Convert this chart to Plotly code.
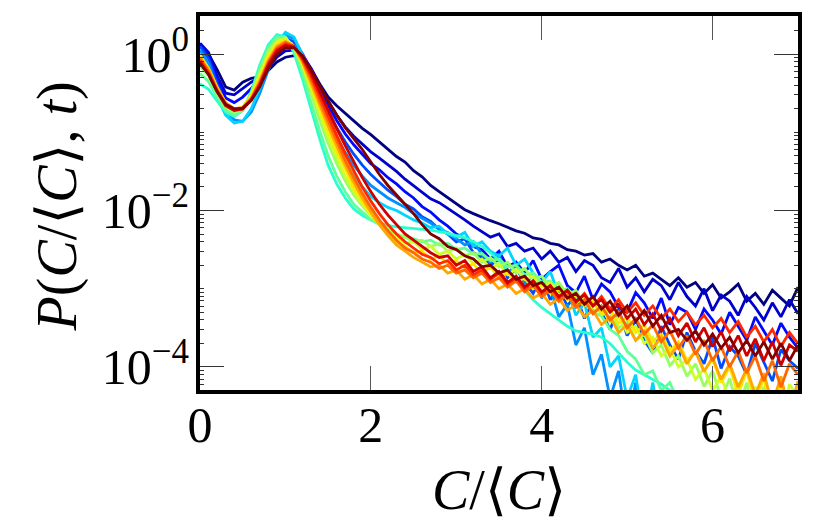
import plotly.graph_objects as go

# C/<C> grid shared by every curve
x_vals = [round(0.1 * k, 1) for k in range(71)]

# log10 P(C/<C>, t), one list per time (early -> late)
# None = empty bin (nothing drawn)
log10_p_t00 = [0.10, 0.00, -0.20, -0.42, -0.46, -0.36, -0.31, -0.29, -0.21, -0.10,
               -0.04, -0.02, -0.06, -0.19, -0.38, -0.55, -0.66, -0.76, -0.86, -0.95,
               -1.03, -1.12, -1.21, -1.31, -1.38, -1.49, -1.57, -1.68, -1.76, -1.84,
               -1.92, -1.99, -2.04, -2.09, -2.13, -2.17, -2.22, -2.26, -2.29, -2.35,
               -2.37, -2.42, -2.44, -2.50, -2.52, -2.57, -2.55, -2.66, -2.62, -2.70,
               -2.76, -2.70, -2.84, -2.80, -2.88, -2.96, -2.86, -2.98, -2.92, -3.06,
               -2.95, -3.12, -3.04, -2.94, -3.16, -3.06, -3.20, -3.02, -3.12, -3.22,
               -2.98]
log10_p_t01 = [0.14, 0.02, -0.28, -0.50, -0.52, -0.44, -0.36, -0.30, -0.18, -0.04,
               0.04, 0.05, -0.02, -0.18, -0.40, -0.60, -0.78, -0.93, -1.05, -1.15,
               -1.25, -1.33, -1.41, -1.50, -1.60, -1.68, -1.77, -1.85, -1.90, -1.97,
               -2.05, -2.12, -2.20, -2.27, -2.34, -2.30, -2.46, -2.42, -2.52, -2.48,
               -2.62, -2.52, -2.66, -2.60, -2.78, -2.64, -2.70, -2.86, -2.92, -2.74,
               -2.98, -2.86, -3.04, -2.88, -2.96, -3.14, -2.92, -3.10, -3.22, -3.00,
               -3.28, -3.08, -3.16, -3.34, -3.10, -3.24, -3.40, -3.18, -3.36, -3.14,
               -3.32]
log10_p_t02 = [0.12, -0.02, -0.32, -0.56, -0.62, -0.55, -0.44, -0.30, -0.12, 0.06,
               0.14, 0.12, 0.00, -0.20, -0.44, -0.66, -0.85, -1.02, -1.16, -1.28,
               -1.40, -1.48, -1.58, -1.66, -1.76, -1.84, -1.95, -2.02, -2.12, -2.20,
               -2.30, -2.36, -2.46, -2.50, -2.62, -2.52, -2.72, -2.66, -2.80, -2.64,
               -2.88, -2.78, -2.70, -2.96, -3.05, -2.84, -3.14, -2.94, -3.04, -3.24,
               -3.30, -3.05, -3.18, -3.38, -3.12, -3.46, -3.24, -3.30, -3.52, -3.26,
               -3.40, -3.58, -3.30, -3.48, -3.66, -3.36, -3.54, -3.72, -3.44, -3.62,
               -3.76]
log10_p_t03 = [0.10, -0.06, -0.38, -0.64, -0.74, -0.70, -0.56, -0.36, -0.12, 0.10,
               0.20, 0.16, 0.00, -0.24, -0.50, -0.74, -0.94, -1.12, -1.28, -1.42,
               -1.54, -1.64, -1.74, -1.82, -1.92, -1.98, -2.08, -2.14, -2.24, -2.30,
               -2.40, -2.36, -2.54, -2.60, -2.70, -2.62, -2.86, -2.74, -2.92, -3.06,
               -2.84, -3.14, -3.00, -3.22, -3.08, -3.38, -3.16, -3.30, -3.52, -3.26,
               -3.60, -3.40, -3.66, -3.82, -3.48, -3.72, -3.90, -3.56, -3.80, -3.96,
               -3.62, -4.02, -3.74, -3.86, -4.10, -3.70, -3.94, -4.18, -3.78, -3.92,
               -4.02]
log10_p_t04 = [0.05, -0.12, -0.45, -0.72, -0.84, -0.86, -0.74, -0.50, -0.20, 0.08,
               0.24, 0.20, 0.00, -0.28, -0.58, -0.84, -1.06, -1.26, -1.42, -1.56,
               -1.68, -1.76, -1.84, -1.90, -1.96, -2.04, -2.10, -2.16, -2.24, -2.28,
               -2.36, -2.44, -2.40, -2.56, -2.66, -2.58, -2.80, -2.70, -2.94, -2.82,
               -3.12, -2.98, -3.36, -3.20, -3.72, -3.50, -4.10, -3.84, -4.40, -4.05,
               -4.80, -4.20, -4.80, -4.30, -4.80, -4.80, None, None, None, None,
               None, None, None, None, None, None, None, None, None, None,
               None]
log10_p_t05 = [-0.10, -0.25, -0.55, -0.78, -0.88, -0.86, -0.70, -0.44, -0.14, 0.14,
               0.28, 0.22, -0.02, -0.34, -0.66, -0.94, -1.18, -1.38, -1.56, -1.70,
               -1.82, -1.90, -1.96, -2.00, -2.06, -2.12, -2.16, -2.22, -2.20, -2.30,
               -2.34, -2.28, -2.46, -2.40, -2.52, -2.58, -2.48, -2.70, -2.62, -2.80,
               -2.92, -2.78, -3.08, -3.00, -3.34, -3.18, -3.62, -3.50, -4.00, -3.86,
               -4.40, -4.10, -4.80, -4.20, -4.80, -4.35, -4.80, None, None, None,
               None, None, None, None, None, None, None, None, None, None,
               None]
log10_p_t06 = [-0.38, -0.45, -0.60, -0.74, -0.80, -0.72, -0.48, -0.14, 0.12, 0.25,
               0.22, 0.02, -0.32, -0.70, -1.08, -1.42, -1.66, -1.84, -1.98, -2.06,
               -2.12, -2.16, -2.19, -2.21, -2.22, -2.23, -2.24, -2.25, -2.27, -2.29,
               -2.32, -2.35, -2.40, -2.46, -2.54, -2.64, -2.76, -2.90, -3.02, -3.14,
               -3.24, -3.32, -3.40, -3.48, -3.54, -3.56, -3.58, -3.62, -3.70, -3.82,
               -3.94, -4.04, -4.10, -4.16, -4.22, -4.30, -4.38, -4.50, None, None,
               None, None, None, None, None, None, None, None, None, None,
               None]
log10_p_t07 = [-0.25, -0.35, -0.55, -0.72, -0.78, -0.72, -0.50, -0.18, 0.08, 0.22,
               0.22, 0.06, -0.26, -0.62, -0.98, -1.30, -1.56, -1.76, -1.92, -2.02,
               -2.12, -2.18, -2.24, -2.30, -2.34, -2.36, -2.40, -2.38, -2.44, -2.42,
               -2.50, -2.48, -2.56, -2.55, -2.64, -2.62, -2.72, -2.70, -2.82, -2.80,
               -2.92, -2.90, -3.02, -3.00, -3.12, -3.15, -3.30, -3.35, -3.52, -3.60,
               -3.80, -3.90, -4.10, -4.05, -4.30, -4.20, -4.45, -4.30, -4.60, -4.35,
               -4.80, None, None, None, None, None, None, None, None, None,
               None]
log10_p_t08 = [-0.15, -0.28, -0.50, -0.68, -0.75, -0.70, -0.52, -0.24, 0.04, 0.18,
               0.20, 0.08, -0.18, -0.50, -0.84, -1.14, -1.40, -1.62, -1.80, -1.94,
               -2.06, -2.16, -2.24, -2.30, -2.34, -2.40, -2.38, -2.46, -2.42, -2.52,
               -2.48, -2.58, -2.54, -2.66, -2.60, -2.72, -2.66, -2.80, -2.74, -2.88,
               -2.84, -2.98, -2.92, -3.08, -3.02, -3.20, -3.14, -3.34, -3.28, -3.50,
               -3.42, -3.66, -3.58, -3.82, -3.72, -3.98, -3.86, -4.12, -3.96, -4.25,
               -4.05, -4.40, -4.15, -4.55, -4.20, -4.80, -4.25, -4.80, -4.30, -4.80,
               -4.20]
log10_p_t09 = [-0.08, -0.22, -0.46, -0.64, -0.72, -0.68, -0.52, -0.26, 0.00, 0.16,
               0.20, 0.10, -0.14, -0.44, -0.76, -1.06, -1.32, -1.56, -1.76, -1.92,
               -2.06, -2.18, -2.28, -2.34, -2.42, -2.40, -2.50, -2.46, -2.56, -2.52,
               -2.62, -2.56, -2.68, -2.62, -2.74, -2.68, -2.82, -2.75, -2.88, -2.84,
               -2.98, -2.92, -3.08, -3.02, -3.18, -3.12, -3.28, -3.24, -3.42, -3.36,
               -3.56, -3.48, -3.70, -3.62, -3.86, -3.76, -4.00, -3.90, -4.16, -4.02,
               -4.30, -4.12, -4.45, -4.20, -4.80, -4.25, -4.80, -4.30, -4.80, -4.22,
               -4.40]
log10_p_t10 = [-0.02, -0.18, -0.42, -0.62, -0.70, -0.68, -0.54, -0.30, -0.04, 0.13,
               0.18, 0.10, -0.12, -0.40, -0.70, -0.98, -1.24, -1.48, -1.70, -1.88,
               -2.04, -2.18, -2.30, -2.40, -2.46, -2.54, -2.52, -2.62, -2.58, -2.68,
               -2.64, -2.74, -2.68, -2.80, -2.72, -2.86, -2.80, -2.92, -2.86, -3.00,
               -2.94, -3.06, -3.00, -3.14, -3.08, -3.22, -3.16, -3.32, -3.26, -3.44,
               -3.36, -3.56, -3.46, -3.68, -3.58, -3.80, -3.68, -3.92, -3.80, -4.05,
               -3.90, -4.20, -4.00, -4.35, -4.05, -4.50, -4.12, -4.80, -4.20, -4.80,
               -4.25]
log10_p_t11 = [-0.04, -0.20, -0.44, -0.62, -0.70, -0.68, -0.56, -0.34, -0.08, 0.10,
               0.16, 0.10, -0.10, -0.36, -0.64, -0.92, -1.18, -1.42, -1.64, -1.84,
               -2.02, -2.18, -2.32, -2.44, -2.52, -2.60, -2.66, -2.72, -2.70, -2.80,
               -2.76, -2.88, -2.82, -2.94, -2.88, -3.00, -2.94, -3.06, -3.00, -3.12,
               -3.06, -3.20, -3.12, -3.28, -3.20, -3.36, -3.28, -3.46, -3.36, -3.56,
               -3.46, -3.66, -3.54, -3.76, -3.62, -3.86, -3.72, -3.96, -3.80, -4.06,
               -3.88, -4.16, -3.96, -4.26, -4.02, -4.36, -4.08, -4.48, -4.12, -4.60,
               -4.18]
log10_p_t12 = [-0.06, -0.22, -0.46, -0.64, -0.71, -0.69, -0.57, -0.36, -0.10, 0.08,
               0.15, 0.10, -0.08, -0.32, -0.60, -0.86, -1.12, -1.36, -1.58, -1.78,
               -1.96, -2.12, -2.26, -2.38, -2.48, -2.54, -2.62, -2.66, -2.74, -2.70,
               -2.80, -2.76, -2.86, -2.80, -2.92, -2.86, -2.98, -2.90, -3.04, -2.96,
               -3.10, -3.02, -3.16, -3.08, -3.24, -3.14, -3.32, -3.22, -3.40, -3.30,
               -3.50, -3.38, -3.58, -3.46, -3.68, -3.54, -3.76, -3.60, -3.84, -3.66,
               -3.92, -3.74, -4.00, -3.80, -4.08, -3.86, -4.18, -3.92, -4.26, -3.96,
               -4.10]
log10_p_t13 = [-0.08, -0.24, -0.47, -0.65, -0.72, -0.70, -0.58, -0.38, -0.12, 0.06,
               0.13, 0.10, -0.06, -0.28, -0.54, -0.80, -1.04, -1.28, -1.50, -1.70,
               -1.88, -2.04, -2.18, -2.30, -2.40, -2.48, -2.56, -2.60, -2.68, -2.64,
               -2.76, -2.70, -2.82, -2.76, -2.88, -2.80, -2.94, -2.86, -3.00, -2.90,
               -3.06, -2.96, -3.12, -3.02, -3.18, -3.06, -3.22, -3.10, -3.26, -3.14,
               -3.30, -3.18, -3.34, -3.22, -3.38, -3.26, -3.42, -3.30, -3.46, -3.34,
               -3.50, -3.38, -3.56, -3.42, -3.62, -3.48, -3.68, -3.52, -3.74, -3.56,
               -3.70]
log10_p_t14 = [-0.10, -0.26, -0.48, -0.66, -0.72, -0.70, -0.59, -0.40, -0.14, 0.04,
               0.11, 0.09, -0.04, -0.24, -0.48, -0.72, -0.95, -1.17, -1.38, -1.58,
               -1.76, -1.92, -2.06, -2.18, -2.30, -2.38, -2.46, -2.54, -2.60, -2.58,
               -2.70, -2.64, -2.78, -2.72, -2.86, -2.78, -2.92, -2.84, -2.98, -2.90,
               -3.04, -2.96, -3.10, -3.02, -3.16, -3.08, -3.22, -3.14, -3.30, -3.20,
               -3.38, -3.26, -3.46, -3.32, -3.54, -3.38, -3.60, -3.44, -3.68, -3.50,
               -3.74, -3.55, -3.80, -3.60, -3.86, -3.64, -3.92, -3.68, -3.98, -3.72,
               -3.80]
log10_p_t15 = [-0.12, -0.26, -0.48, -0.64, -0.70, -0.69, -0.59, -0.42, -0.18, 0.00,
               0.08, 0.08, -0.02, -0.20, -0.40, -0.60, -0.78, -0.94, -1.08, -1.22,
               -1.38, -1.54, -1.68, -1.80, -1.92, -2.04, -2.18, -2.30, -2.36, -2.46,
               -2.50, -2.58, -2.62, -2.72, -2.70, -2.80, -2.76, -2.88, -2.84, -2.96,
               -2.92, -3.04, -2.98, -3.12, -3.06, -3.20, -3.10, -3.26, -3.16, -3.34,
               -3.22, -3.42, -3.28, -3.48, -3.34, -3.56, -3.52, -3.66, -3.54, -3.72,
               -3.58, -3.76, -3.62, -3.82, -3.66, -3.86, -3.68, -3.90, -3.70, -3.92,
               -3.72]

curves = [log10_p_t00, log10_p_t01, log10_p_t02, log10_p_t03, log10_p_t04,
          log10_p_t05, log10_p_t06, log10_p_t07, log10_p_t08, log10_p_t09,
          log10_p_t10, log10_p_t11, log10_p_t12, log10_p_t13, log10_p_t14,
          log10_p_t15]


def jet(t):
    # matplotlib 'jet' colormap
    def interp(pts):
        for (x0, y0), (x1, y1) in zip(pts[:-1], pts[1:]):
            if x0 <= t <= x1:
                return y0 + (y1 - y0) * (t - x0) / (x1 - x0) if x1 > x0 else y1
        return pts[-1][1]
    r = interp([(0, 0), (0.35, 0), (0.66, 1), (0.89, 1), (1, 0.5)])
    g = interp([(0, 0), (0.125, 0), (0.375, 1), (0.64, 1), (0.91, 0), (1, 0)])
    b = interp([(0, 0.5), (0.11, 1), (0.34, 1), (0.65, 0), (1, 0)])
    return "rgb(%d,%d,%d)" % (round(r * 255), round(g * 255), round(b * 255))


SERIF = "Liberation Serif, DejaVu Serif, serif"

fig = go.Figure()
n = len(curves)
for i, lp in enumerate(curves):
    fig.add_trace(go.Scatter(
        x=x_vals,
        y=[None if v is None else 10 ** v for v in lp],
        mode="lines",
        line=dict(color=jet(i / (n - 1)), width=2.8),
        showlegend=False,
        hoverinfo="skip",
    ))

minor_y = [m * 10 ** e for e in range(-5, 1) for m in range(1, 10)]

fig.update_layout(
    width=830, height=518,
    margin=dict(l=200, r=32, t=16, b=128),
    paper_bgcolor="white",
    plot_bgcolor="white",
    font=dict(family=SERIF, size=50, color="black"),
)
fig.update_xaxes(
    range=[0, 7],
    tickvals=[0, 2, 4, 6],
    ticktext=["0", "2", "4", "6"],
    ticks="inside", ticklen=24, tickwidth=1.2, tickcolor="#555",
    showline=True, linecolor="black", linewidth=4, mirror="allticks",
    showgrid=False, zeroline=False, automargin=False,
    ticklabelstandoff=-12,
)
fig.update_yaxes(
    type="log",
    range=[-4.295, 0.487],
    tickvals=[1e-4, 1e-2, 1],
    ticktext=["10<sup>−4</sup>", "10<sup>−2</sup>", "10<sup>0</sup>"],
    ticks="inside", ticklen=24, tickwidth=1.2, tickcolor="#333",
    minor=dict(tickvals=minor_y, ticks="inside", ticklen=4,
               tickwidth=1, tickcolor="#333"),
    showline=True, linecolor="black", linewidth=4, mirror="allticks",
    showgrid=False, zeroline=False, automargin=False,
    ticklabelstandoff=-3,
)

# axis titles
fig.add_annotation(
    text="<i>C</i>/⟨<i>C</i>⟩", xref="paper", yref="paper",
    x=0.5, y=-0.178, xanchor="center", yanchor="top",
    showarrow=False, font=dict(family=SERIF, size=56),
)
fig.add_annotation(
    text="<i>P</i>(<i>C</i>/⟨<i>C</i>⟩, <i>t</i>)", xref="paper", yref="paper",
    x=-0.238, y=0.49, xanchor="center", yanchor="middle", textangle=-90,
    showarrow=False, font=dict(family=SERIF, size=56),
)

# drop the browser's default body margin so the figure sits at (0, 0)
fig.write_html("out.html", config={"displayModeBar": False},
               post_script="document.body.style.margin = '0';")
